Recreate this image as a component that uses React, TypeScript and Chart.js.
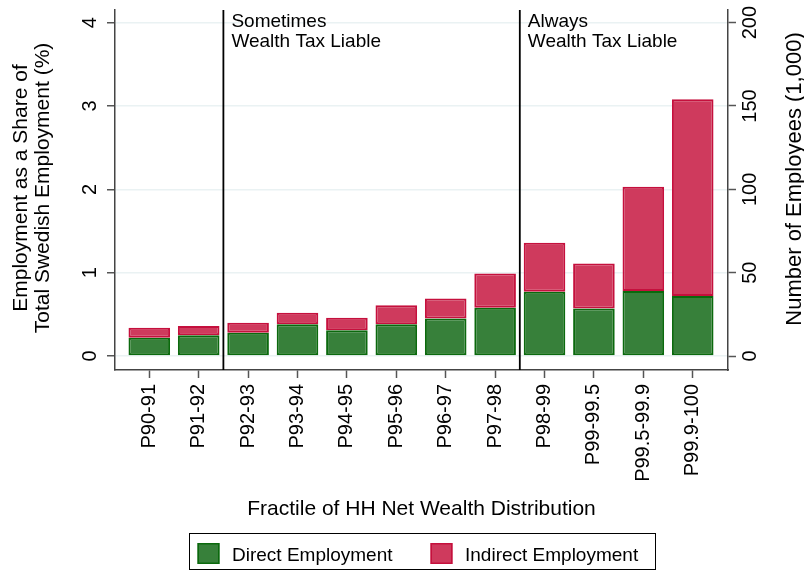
import React, { useEffect, useRef } from 'react';
import { Chart, registerables } from 'chart.js';

Chart.register(...registerables);

const categories = ['P90-91', 'P91-92', 'P92-93', 'P93-94', 'P94-95', 'P95-96', 'P96-97', 'P97-98', 'P98-99', 'P99-99.5', 'P99.5-99.9', 'P99.9-100'];
const directShare = [0.22, 0.25, 0.28, 0.38, 0.31, 0.38, 0.45, 0.58, 0.77, 0.57, 0.78, 0.72];
const indirectShare = [0.12, 0.11, 0.12, 0.14, 0.15, 0.23, 0.24, 0.41, 0.59, 0.54, 1.25, 2.36];
const leftTicks = [0, 1, 2, 3, 4];
const rightTicks = [0, 50, 100, 150, 200];
const employeesPerShare = 50; // thousand employees per percentage point
const groupBoundaries = [1.5, 7.5];
const groupLabels = [['Sometimes', 'Wealth Tax Liable'], ['Always', 'Wealth Tax Liable']];
const seriesLabels = ['Direct Employment', 'Indirect Employment'];

const FONT = '"Liberation Sans", Arial, Helvetica, sans-serif';
const GREEN = '#37803a';
const GREEN_BORDER = '#0b690d';
const RED = '#cf3a5d';
const RED_BORDER = '#c5103d';

const Y_MIN = -0.168;
const Y_MAX = 4.152;

const overlay = {
  id: 'overlay',
  afterDatasetsDraw(chart: any) {
    const ctx = chart.ctx;
    const { top, bottom } = chart.chartArea;
    const x = chart.scales.x;
    ctx.save();
    groupBoundaries.forEach((b, i) => {
      const px = x.getPixelForValue(b);
      ctx.strokeStyle = '#000';
      ctx.lineWidth = 1.8;
      ctx.beginPath();
      ctx.moveTo(px, top);
      ctx.lineTo(px, bottom);
      ctx.stroke();
      ctx.fillStyle = '#000';
      ctx.font = `19px ${FONT}`;
      ctx.textAlign = 'left';
      ctx.textBaseline = 'alphabetic';
      groupLabels[i].forEach((t, j) => ctx.fillText(t, px + 8, 27 + j * 19.5));
    });
    ctx.restore();
  },
  afterDraw(chart: any) {
    const ctx = chart.ctx;
    const area = chart.chartArea;
    const yL = chart.scales.y;
    const yR = chart.scales.y2;
    const midY = (area.top + area.bottom) / 2;
    ctx.save();
    ctx.fillStyle = '#000';
    // rotated y tick labels
    ctx.font = `20px ${FONT}`;
    ctx.textAlign = 'center';
    ctx.textBaseline = 'alphabetic';
    yL.ticks.forEach((t: any) => {
      const py = yL.getPixelForValue(t.value);
      ctx.save();
      ctx.translate(96, py);
      ctx.rotate(-Math.PI / 2);
      ctx.fillText(String(t.value), 0, 0);
      ctx.restore();
    });
    yR.ticks.forEach((t: any) => {
      const py = yR.getPixelForValue(t.value);
      ctx.save();
      ctx.translate(756, py);
      ctx.rotate(-Math.PI / 2);
      ctx.fillText(String(t.value), 0, 0);
      ctx.restore();
    });
    // axis titles
    ctx.font = `21px ${FONT}`;
    const leftTitle = ['Employment as a Share of', 'Total Swedish Employment (%)'];
    leftTitle.forEach((t, i) => {
      ctx.save();
      ctx.translate(27 + i * 22, midY - 2);
      ctx.rotate(-Math.PI / 2);
      ctx.fillText(t, 0, 0);
      ctx.restore();
    });
    ctx.font = `22px ${FONT}`;
    ctx.save();
    ctx.translate(801, midY - 11);
    ctx.rotate(-Math.PI / 2);
    ctx.fillText('Number of Employees (1,000)', 0, 0);
    ctx.restore();
    ctx.font = `21px ${FONT}`;
    ctx.fillText('Fractile of HH Net Wealth Distribution', (area.left + area.right) / 2, 515);

    // legend
    const cx = (area.left + area.right) / 2;
    ctx.strokeStyle = '#000';
    ctx.lineWidth = 1;
    ctx.strokeRect(Math.round(cx - 233) + 0.5, 533.5, 466, 36);
    const ds = chart.data.datasets;
    const itemX = [cx - 224, cx + 9];
    ctx.font = `19px ${FONT}`;
    ctx.textAlign = 'left';
    ds.forEach((d: any, i: number) => {
      const x0 = itemX[i];
      ctx.fillStyle = d.backgroundColor;
      ctx.fillRect(x0, 543, 22, 21);
      ctx.strokeStyle = d.borderColor;
      ctx.lineWidth = 1.5;
      ctx.strokeRect(x0 + 0.75, 543.75, 20.5, 19.5);
      ctx.fillStyle = '#000';
      ctx.fillText(d.label, x0 + 34.5, 561);
    });
    ctx.restore();
  },
};

export default function App() {
  const ref = useRef<HTMLCanvasElement | null>(null);
  useEffect(() => {
    if (!ref.current) return;
    const chart = new Chart(ref.current, {
      type: 'bar',
      data: {
        datasets: [
          {
            label: seriesLabels[0],
            data: categories.map((_, i) => ({ x: i, y: directShare[i] })),
            backgroundColor: GREEN,
            borderColor: GREEN_BORDER,
            borderWidth: 2,
            borderSkipped: false,
            categoryPercentage: 1,
            barPercentage: 0.842,
          },
          {
            label: seriesLabels[1],
            data: categories.map((_, i) => ({ x: i, y: indirectShare[i] })),
            backgroundColor: RED,
            borderColor: RED_BORDER,
            borderWidth: 2,
            borderSkipped: false,
            categoryPercentage: 1,
            barPercentage: 0.842,
          },
        ],
      },
      options: {
        animation: false,
        responsive: false,
        layout: { padding: { top: 10, left: 0, right: 0, bottom: 0 } },
        plugins: { legend: { display: false }, tooltip: { enabled: false } },
        scales: {
          x: {
            type: 'linear',
            stacked: true,
            min: -0.694,
            max: 11.714,
            offset: false,
            afterBuildTicks: (s: any) => {
              s.ticks = categories.map((_, i) => ({ value: i }));
            },
            afterFit: (s: any) => {
              s.height = 201;
            },
            ticks: {
              autoSkip: false,
              minRotation: 90,
              maxRotation: 90,
              padding: 6,
              color: '#000',
              font: { family: FONT, size: 20 },
              callback: (v: any) => categories[v] ?? '',
            },
            grid: { offset: false, drawOnChartArea: false, drawTicks: true, tickLength: 8, tickColor: '#555', tickWidth: 1.5 },
            border: { display: true, color: '#444', width: 1.5 },
          },
          y: {
            type: 'linear',
            position: 'left',
            stacked: true,
            min: Y_MIN,
            max: Y_MAX,
            afterBuildTicks: (s: any) => {
              s.ticks = leftTicks.map((v) => ({ value: v }));
            },
            afterFit: (s: any) => {
              s.width = 115;
            },
            ticks: { display: false },
            grid: { color: '#eaf2f3', lineWidth: 1.5, drawTicks: true, tickLength: 8, tickColor: '#555', tickWidth: 1.5 },
            border: { display: true, color: '#444', width: 1.5 },
          },
          y2: {
            type: 'linear',
            position: 'right',
            min: Y_MIN * employeesPerShare,
            max: Y_MAX * employeesPerShare,
            afterBuildTicks: (s: any) => {
              s.ticks = rightTicks.map((v) => ({ value: v }));
            },
            afterFit: (s: any) => {
              s.width = 76;
            },
            ticks: { display: false },
            grid: { drawOnChartArea: false, drawTicks: true, tickLength: 8, tickColor: '#555', tickWidth: 1.5 },
            border: { display: true, color: '#444', width: 1.5 },
          },
        },
      } as any,
      plugins: [overlay],
    });
    return () => chart.destroy();
  }, []);
  return (
    <canvas
      ref={ref}
      width={804}
      height={571}
      style={{ position: 'absolute', left: 0, top: 0, display: 'block', background: '#fff' }}
    />
  );
}
